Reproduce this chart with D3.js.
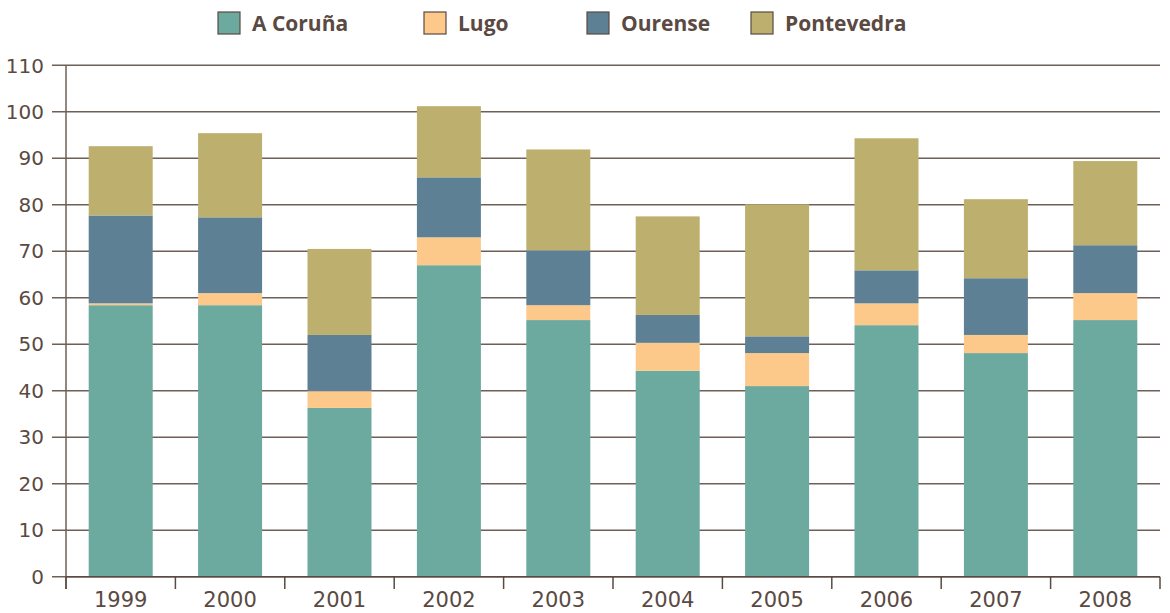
<!DOCTYPE html>
<html>
<head>
<meta charset="utf-8">
<script src="https://cdn.jsdelivr.net/npm/d3@7"></script>
<style>
  body { margin: 0; background: #fff; }
  svg { display: block; }
</style>
</head>
<body>
<div id="chart"></div>
<script>
var years = ["1999", "2000", "2001", "2002", "2003", "2004", "2005", "2006", "2007", "2008"];
var provinces = ["A Coruña", "Lugo", "Ourense", "Pontevedra"];
var coruna     = [58.4, 58.4, 36.3, 67.0, 55.2, 44.3, 41.0, 54.1, 48.1, 55.2];
var lugo       = [0.4, 2.6, 3.6, 6.0, 3.2, 6.0, 7.1, 4.7, 3.9, 5.8];
var ourense    = [18.9, 16.3, 12.1, 12.9, 11.8, 6.0, 3.6, 7.1, 12.2, 10.3];
var pontevedra = [14.9, 18.1, 18.5, 15.3, 21.7, 21.2, 28.4, 28.4, 17.0, 18.1];
var yTicks = [0, 10, 20, 30, 40, 50, 60, 70, 80, 90, 100, 110];
var colors = ["#6ca99e", "#fdc98a", "#5e8094", "#bdaf6e"];

var W = 1170, H = 613;
var ink = "#5a4a42";

var rows = years.map(function (y, i) {
    return { year: y, "A Coruña": coruna[i], "Lugo": lugo[i], "Ourense": ourense[i], "Pontevedra": pontevedra[i] };
});

var svg = d3.select("#chart").append("svg")
    .attr("width", W)
    .attr("height", H);

var xScale = d3.scaleBand()
    .domain(years)
    .range([66, 1160])
    .paddingInner(0.415)
    .paddingOuter(0.2075);

var yScale = d3.scaleLinear()
    .domain([0, 110])
    .range([576.7, 65.3]);

//gridlines + y ticks
svg.append("g")
    .selectAll("line")
    .data(yTicks)
    .enter()
    .append("line")
    .attr("x1", 52)
    .attr("x2", 1160)
    .attr("y1", function (d) { return yScale(d); })
    .attr("y2", function (d) { return yScale(d); })
    .attr("stroke", "#6e5f57")
    .attr("stroke-width", 1.5);

//y labels
svg.append("g")
    .selectAll("text")
    .data(yTicks)
    .enter()
    .append("text")
    .attr("x", 44)
    .attr("y", function (d) { return yScale(d); })
    .attr("dy", "0.36em")
    .attr("text-anchor", "end")
    .style("font-family", "DejaVu Sans")
    .style("font-size", "20px")
    .attr("fill", ink)
    .text(function (d) { return d; });

//stacked bars
var stack = d3.stack().keys(provinces);
var series = stack(rows);

svg.append("g")
    .selectAll("g")
    .data(series)
    .enter()
    .append("g")
    .attr("fill", function (d, i) { return colors[i]; })
    .selectAll("rect")
    .data(function (d) { return d; })
    .enter()
    .append("rect")
    .attr("x", function (d) { return xScale(d.data.year); })
    .attr("width", xScale.bandwidth())
    .attr("y", function (d) { return yScale(d[1]); })
    .attr("height", function (d) { return yScale(d[0]) - yScale(d[1]); });

//y axis line
svg.append("line")
    .attr("x1", 66).attr("x2", 66)
    .attr("y1", yScale(110)).attr("y2", 589)
    .attr("stroke", "#6e5f57")
    .attr("stroke-width", 1.5);

//x axis line and ticks between categories
svg.append("line")
    .attr("x1", 66).attr("x2", 1160)
    .attr("y1", yScale(0)).attr("y2", yScale(0))
    .attr("stroke", ink)
    .attr("stroke-width", 1.5);

svg.append("g")
    .selectAll("line")
    .data(d3.range(years.length + 1))
    .enter()
    .append("line")
    .attr("x1", function (i) { return xScale.range()[0] + i * xScale.step(); })
    .attr("x2", function (i) { return xScale.range()[0] + i * xScale.step(); })
    .attr("y1", yScale(0))
    .attr("y2", 589)
    .attr("stroke", ink)
    .attr("stroke-width", 1.5);

//x labels
svg.append("g")
    .selectAll("text")
    .data(years)
    .enter()
    .append("text")
    .attr("x", function (d) { return xScale(d) + xScale.bandwidth() / 2; })
    .attr("y", 607)
    .attr("text-anchor", "middle")
    .style("font-family", "DejaVu Sans")
    .style("font-size", "21px")
    .attr("fill", ink)
    .text(function (d) { return d; });

//legend
var legendX = [218, 424, 587, 751];
var legend = svg.append("g")
    .selectAll("g")
    .data(provinces)
    .enter()
    .append("g")
    .attr("transform", function (d, i) { return "translate(" + legendX[i] + ",12)"; });

legend.append("rect")
    .attr("width", 22)
    .attr("height", 22)
    .attr("fill", function (d, i) { return colors[i]; })
    .attr("stroke", ink)
    .attr("stroke-width", 1.2);

legend.append("text")
    .attr("x", 34)
    .attr("y", 19)
    .style("font-family", "Open Sans")
    .style("font-weight", "bold")
    .style("font-size", "21px")
    .attr("fill", ink)
    .text(function (d) { return d; });
</script>
</body>
</html>
